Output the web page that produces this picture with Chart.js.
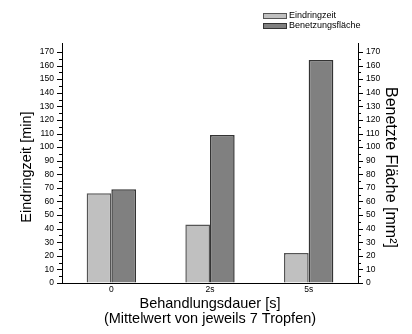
<!DOCTYPE html>
<html>
<head>
<meta charset="utf-8">
<script src="https://cdn.jsdelivr.net/npm/chart.js@4.4.1/dist/chart.umd.min.js"></script>
<style>
  html, body { margin: 0; padding: 0; background: #fff; }
  #wrap { width: 412px; height: 334px; position: relative; }
</style>
</head>
<body>
<div id="wrap"><canvas id="chart"></canvas></div>
<script>
// ---- Data ----
const categories   = ['0', '2s', '5s'];
const eindringzeit = [66, 43, 22];        // min
const benetzung    = [69, 108.9, 164];    // mm²
const yMax = 176.6;
const yLabelMax = 170;

const seriesNames  = ['Eindringzeit', 'Benetzungsfläche'];
const fillColors   = ['#c0c0c0', '#808080'];
const borderColors = ['#555555', '#333333'];

const FONT = "'Liberation Sans', Arial, sans-serif";

// ---- Axis tick marks + legend (drawn through the scales) ----
const axisDecor = {
  id: 'axisDecor',
  afterDraw(chart) {
    const ctx = chart.ctx;
    const area = chart.chartArea;
    ctx.save();
    ctx.strokeStyle = '#000';
    ctx.lineWidth = 1;
    ['y', 'y2'].forEach(id => {
      const sc = chart.scales[id];
      const x = id === 'y' ? area.left : area.right;
      const dir = id === 'y' ? -1 : 1;
      for (let v = 0; v <= yLabelMax; v += 5) {
        const py = Math.round(sc.getPixelForValue(v)) + 0.5;
        const len = v % 10 === 0 ? 5 : 3;
        ctx.beginPath();
        ctx.moveTo(x, py);
        ctx.lineTo(x + dir * len, py);
        ctx.stroke();
      }
    });

    // legend, top right
    const lx = 263, ly = [13, 23];
    ctx.font = '9px ' + FONT;
    ctx.textBaseline = 'middle';
    chart.data.datasets.forEach((ds, i) => {
      ctx.fillStyle = ds.backgroundColor;
      ctx.fillRect(lx, ly[i], 23, 5);
      ctx.strokeStyle = ds.borderColor;
      ctx.strokeRect(lx + 0.5, ly[i] + 0.5, 23, 5);
      ctx.fillStyle = '#000';
      ctx.fillText(ds.label, lx + 26, ly[i] + 3);
    });
    ctx.restore();
  }
};

const tickFont = { family: FONT, size: 8.5 };
const titleFont = { family: FONT, size: 14.5, lineHeight: 15.6 / 14.5 };

const yTickLabel = v => (v % 10 === 0 && v <= yLabelMax) ? String(v) : null;

new Chart(document.getElementById('chart'), {
  type: 'bar',
  data: {
    labels: categories,
    datasets: [eindringzeit, benetzung].map((d, i) => ({
      label: seriesNames[i],
      data: d,
      backgroundColor: fillColors[i],
      borderColor: borderColors[i],
      borderWidth: 1.5,
      categoryPercentage: 0.5,
      barPercentage: 1.0,
      yAxisID: 'y'
    }))
  },
  options: {
    responsive: true,
    maintainAspectRatio: false,
    animation: false,
    layout: { padding: { top: 43, left: 0, right: 0, bottom: 0 } },
    plugins: {
      legend: { display: false },
      tooltip: { enabled: false }
    },
    scales: {
      x: {
        offset: true,
        grid: { display: false, drawTicks: false },
        border: { display: true, color: '#000', width: 1 },
        ticks: { color: '#000', font: tickFont, padding: 2, maxRotation: 0 },
        title: {
          display: true,
          text: ['Behandlungsdauer [s]', '(Mittelwert von jeweils 7 Tropfen)'],
          color: '#000',
          font: titleFont,
          padding: { top: 0, bottom: 7 }
        },
        afterFit: s => { s.height = 51; }
      },
      y: {
        position: 'left',
        min: 0, max: yMax,
        grid: { display: true, drawOnChartArea: false, drawTicks: true, tickLength: 5, tickColor: 'transparent' },
        border: { display: true, color: '#000', width: 1 },
        ticks: { stepSize: 5, includeBounds: false, autoSkip: false, color: '#000', font: tickFont, padding: 3, callback: yTickLabel },
        title: {
          display: true,
          text: 'Eindringzeit [min]  ',
          color: '#000',
          font: titleFont,
          padding: { top: 19.5, bottom: 0 }
        },
        afterFit: s => { s.width = 62; }
      },
      y2: {
        position: 'right',
        min: 0, max: yMax,
        grid: { display: true, drawOnChartArea: false, drawTicks: true, tickLength: 5, tickColor: 'transparent' },
        border: { display: true, color: '#000', width: 1 },
        ticks: { stepSize: 5, includeBounds: false, autoSkip: false, color: '#000', font: tickFont, padding: 3, callback: yTickLabel },
        title: {
          display: true,
          text: '  Benetzte Fläche [mm²]',
          color: '#000',
          font: { family: FONT, size: 16 },
          padding: { top: 11.5, bottom: 0 }
        },
        afterFit: s => { s.width = 54; }
      }
    }
  },
  plugins: [axisDecor]
});
</script>
</body>
</html>
